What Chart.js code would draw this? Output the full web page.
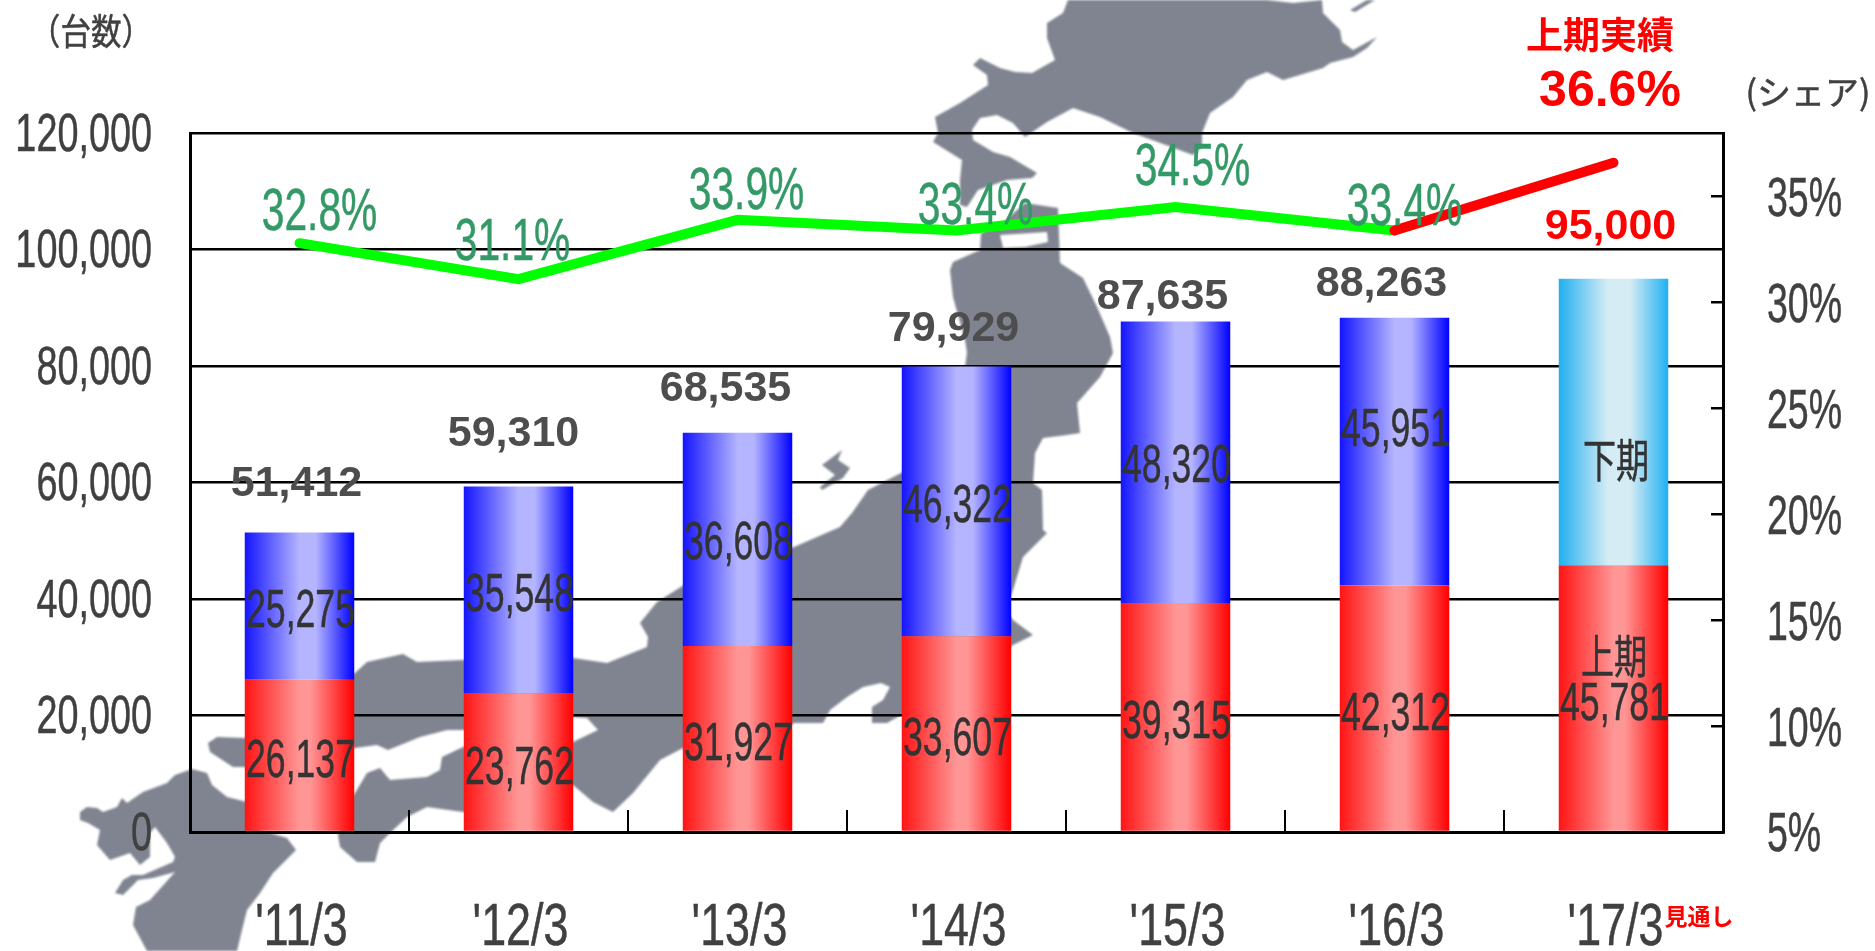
<!DOCTYPE html>
<html lang="ja">
<head>
<meta charset="utf-8">
<title>台数とシェア</title>
<script src="https://cdn.jsdelivr.net/npm/chart.js@4"></script>
<style>
  html, body { margin: 0; padding: 0; background: #fff; }
  canvas { display: block; }
</style>
</head>
<body>
<canvas id="chart" width="1875" height="951"></canvas>
<script>
const categories = ["'11/3", "'12/3", "'13/3", "'14/3", "'15/3", "'16/3", "'17/3"];
const firstHalf = [26137, 23762, 31927, 33607, 39315, 42312, 45781];
const secondHalf = [25275, 35548, 36608, 46322, 48320, 45951, 49219];
const totals = [51412, 59310, 68535, 79929, 87635, 88263, 95000];
const shareActual = [32.8, 31.1, 33.9, 33.4, 34.5, 33.4, null];
const shareForecast = [null, null, null, null, null, 33.4, 36.6];
const unitTicks = [0, 20000, 40000, 60000, 80000, 100000, 120000];
const shareTicks = [5, 10, 15, 20, 25, 30, 35];

// label nudges, the original chart places these by hand
const totalNudgeX = [-3, -5, -12, -3, -13, -13, -3];
const totalNudgeY = [-48, -52, -44, -37, -24, -34, -51];
const shareNudgeX = [20, -6, 9, 19, 17, 10];
const shareNudgeY = [-29, -35, -27, -23, -38, -22];
const secondNudgeY = [6, 6, 5, 6, 5, -21];

// japan map behind the chart, page pixels
const mapShapes = [
  [[80,812],[87,807],[97,808],[103,812],[117,807],[122,798],[127,803],[143,792],[167,783],[175,775],[192,769],[207,773],[212,785],[227,797],[247,802],[260,830],[287,838],[296,850],[273,873],[260,893],[247,910],[242,930],[237,951],[147,951],[133,925],[136,907],[150,900],[175,872],[153,878],[138,880],[123,895],[115,893],[123,880],[132,875],[143,875],[173,862],[175,857],[167,843],[155,827],[150,833],[150,857],[140,865],[130,853],[110,860],[97,845],[100,830],[88,823],[80,820]],
  [[355,793],[367,773],[380,768],[390,780],[427,777],[440,770],[442,757],[463,747],[475,745],[475,812],[463,812],[427,807],[407,817],[390,833],[380,843],[375,862],[357,862],[340,847],[338,835],[340,830],[350,800]],
  [[245,738],[300,700],[355,673],[367,662],[403,654],[417,662],[463,660],[573,658],[607,663],[647,647],[648,637],[640,623],[657,602],[684,585],[794,547],[840,527],[852,513],[868,490],[903,472],[960,400],[967,353],[965,340],[953,297],[950,270],[953,262],[980,250],[981,233],[1000,225],[1025,203],[1058,208],[1060,263],[1083,278],[1097,307],[1110,337],[1113,353],[1100,377],[1077,403],[1080,433],[1067,435],[1043,438],[1035,453],[1033,483],[1042,490],[1043,530],[1047,533],[1023,557],[1013,590],[1005,610],[1013,620],[1033,635],[1013,645],[1005,650],[910,675],[910,710],[887,723],[872,723],[872,707],[883,700],[890,687],[881,683],[863,687],[847,697],[830,710],[823,723],[794,723],[740,760],[683,748],[660,760],[633,793],[613,812],[593,802],[573,785],[560,785],[560,742],[573,742],[598,730],[587,718],[573,717],[463,730],[447,730],[420,737],[388,750],[377,745],[355,748],[245,767],[233,767],[210,752],[208,743],[217,737]],
  [[1000,235],[1047,232],[1048,242],[1025,247],[1003,248]],
  [[973,65],[980,58],[1000,68],[1015,72],[1032,73],[1055,60],[1047,38],[1047,23],[1063,13],[1068,0],[1267,0],[1293,3],[1322,0],[1323,13],[1340,30],[1342,42],[1353,50],[1377,37],[1367,48],[1353,57],[1330,63],[1323,68],[1283,80],[1267,72],[1247,80],[1233,97],[1210,113],[1202,133],[1202,147],[1193,155],[1133,133],[1100,117],[1073,108],[1047,122],[1025,137],[1013,123],[997,115],[980,118],[972,130],[973,140],[993,152],[1010,157],[1037,173],[1032,178],[1007,180],[978,190],[967,207],[960,205],[960,180],[962,160],[933,142],[938,133],[935,117],[960,103],[988,85],[987,75]],
  [[1350,10],[1367,0],[1375,0],[1355,12]],
  [[822,465],[842,450],[838,460],[850,468],[843,478],[822,490],[820,487],[835,475]]
];

const latin = '"Liberation Sans", Arial, sans-serif';
const cjk = '"Noto Sans CJK JP", "Liberation Sans", sans-serif';

function barGradient(context, stops) {
    const chart = context.chart;
    const xScale = chart.scales.x;
    if (!xScale || !xScale.width) return stops[0][1];
    const center = xScale.getPixelForValue(context.dataIndex);
    const half = xScale.width / categories.length / 4;
    const gradient = chart.ctx.createLinearGradient(center - half, 0, center + half, 0);
    stops.forEach(s => gradient.addColorStop(s[0], s[1]));
    return gradient;
}

const redStops = [[0, '#ff1414'], [0.5, '#ff9696'], [0.6, '#ff9696'], [1, '#ff0000']];
const blueStops = [[0, '#1414ff'], [0.5, '#b4b4ff'], [0.65, '#b4b4ff'], [1, '#0000ff']];
const skyStops = [[0, '#22b0f0'], [0.45, '#d6ecf5'], [0.65, '#d6ecf5'], [1, '#1fb0f2']];

// squeezed text, the reference is stretched tall
function drawText(ctx, text, x, y, font, color, squeeze, align) {
    ctx.save();
    ctx.translate(x, y);
    ctx.scale(squeeze, 1);
    ctx.font = font;
    ctx.fillStyle = color;
    ctx.textAlign = align || 'center';
    ctx.textBaseline = 'middle';
    ctx.fillText(text, 0, 0);
    if (!font.startsWith('bold')) {
        ctx.strokeStyle = color;
        ctx.lineWidth = 0.5;
        ctx.strokeText(text, 0, 0);
    }
    ctx.restore();
}

const mapBackground = {
    id: 'mapBackground',
    beforeDraw(chart) {
        const ctx = chart.ctx;
        ctx.save();
        ctx.fillStyle = '#fff';
        ctx.fillRect(0, 0, chart.width, chart.height);
        ctx.filter = 'blur(1px)';
        ctx.fillStyle = '#7f8490';
        ctx.beginPath();
        mapShapes.forEach(shape => {
            shape.forEach((p, i) => i ? ctx.lineTo(p[0], p[1]) : ctx.moveTo(p[0], p[1]));
            ctx.closePath();
        });
        ctx.fill('evenodd');
        ctx.restore();
    }
};

const chartLabels = {
    id: 'chartLabels',
    afterDraw(chart) {
        const ctx = chart.ctx;
        const { x, y, y1 } = chart.scales;
        const grey = '#404040';

        y.ticks.forEach(t => {
            drawText(ctx, t.value.toLocaleString('en-US'), 152, y.getPixelForValue(t.value) + 3, '54px ' + latin, grey, 0.7, 'right');
        });
        y1.ticks.forEach(t => {
            drawText(ctx, t.value + '%', 1767, y1.getPixelForValue(t.value) + 4, '56px ' + latin, grey, 0.67, 'left');
        });
        categories.forEach((c, i) => {
            drawText(ctx, c, x.getPixelForValue(i) + 2, 929, '59px ' + latin, grey, 0.76);

            const cx = x.getPixelForValue(i);
            const top = y.getPixelForValue(totals[i]);
            const color = i === 6 ? '#ff0000' : '#4d4d4d';
            drawText(ctx, totals[i].toLocaleString('en-US'), cx + totalNudgeX[i], top + totalNudgeY[i], 'bold 43px ' + latin, color, 1);

            const firstMid = (y.getPixelForValue(0) + y.getPixelForValue(firstHalf[i])) / 2;
            drawText(ctx, firstHalf[i].toLocaleString('en-US'), cx + 1, firstMid + 6, '54px ' + latin, '#333', 0.66);

            if (i < 6) {
                const secondMid = (y.getPixelForValue(firstHalf[i]) + top) / 2;
                drawText(ctx, secondHalf[i].toLocaleString('en-US'), cx + 1, secondMid + secondNudgeY[i], '54px ' + latin, '#333', 0.66);
                const sy = y1.getPixelForValue(shareActual[i]);
                drawText(ctx, shareActual[i].toFixed(1) + '%', cx + shareNudgeX[i], sy + shareNudgeY[i], '59px ' + latin, '#339966', 0.69);
            }
        });

        drawText(ctx, '上期', 1614, 656, '46px ' + cjk, '#333', 0.72);
        drawText(ctx, '下期', 1616, 460, '46px ' + cjk, '#333', 0.72);
        drawText(ctx, '（台数）', 91, 31, '36px ' + cjk, grey, 0.85);
        drawText(ctx, '(シェア)', 1808, 92, '34px ' + cjk, grey, 1);
        drawText(ctx, '上期実績', 1600, 35, 'bold 37px ' + cjk, '#ff0000', 1);
        drawText(ctx, shareForecast[6] + '%', 1610, 92, 'bold 50px ' + latin, '#ff0000', 1);
        drawText(ctx, '見通し', 1699, 916, 'bold 23px ' + cjk, '#ff0000', 1);
    }
};

new Chart(document.getElementById('chart').getContext('2d'), {
    type: 'bar',
    data: {
        labels: categories,
        datasets: [
            {
                label: '上期',
                data: firstHalf,
                order: 3,
                yAxisID: 'y',
                backgroundColor: (c) => barGradient(c, redStops),
                barPercentage: 0.5,
                categoryPercentage: 1
            },
            {
                label: '下期',
                data: secondHalf,
                order: 3,
                yAxisID: 'y',
                backgroundColor: (c) => barGradient(c, c.dataIndex === 6 ? skyStops : blueStops),
                barPercentage: 0.5,
                categoryPercentage: 1
            },
            {
                type: 'line',
                label: 'シェア',
                data: shareActual,
                order: 2,
                yAxisID: 'y1',
                borderColor: '#00ff00',
                borderWidth: 10,
                borderCapStyle: 'round',
                pointRadius: 0,
                tension: 0
            },
            {
                type: 'line',
                label: 'シェア見通し',
                data: shareForecast,
                order: 1,
                yAxisID: 'y1',
                borderColor: '#ff0000',
                borderWidth: 10,
                borderCapStyle: 'round',
                pointRadius: 0,
                tension: 0
            }
        ]
    },
    options: {
        responsive: false,
        animation: false,
        layout: { padding: { left: 190, top: 133, right: 152, bottom: 119 } },
        plugins: { legend: { display: false }, tooltip: { enabled: false } },
        scales: {
            x: {
                stacked: true,
                z: 1,
                ticks: { display: false },
                border: { color: '#000', width: 3 },
                grid: { drawOnChartArea: false, color: '#000', lineWidth: 2, tickLength: -22 }
            },
            y: {
                stacked: true,
                min: 0,
                max: 120000,
                afterBuildTicks: (axis) => { axis.ticks = unitTicks.map(value => ({ value })); },
                ticks: { display: false },
                border: { color: '#000', width: 3 },
                grid: { color: '#000', lineWidth: 2.5, drawTicks: false }
            },
            y1: {
                position: 'right',
                min: 5,
                max: 38,
                afterBuildTicks: (axis) => { axis.ticks = shareTicks.map(value => ({ value })); },
                ticks: { display: false },
                border: { color: '#000', width: 3 },
                grid: { drawOnChartArea: false, color: '#000', lineWidth: 2.5, tickLength: -12 }
            }
        }
    },
    plugins: [mapBackground, chartLabels]
});
</script>
</body>
</html>
